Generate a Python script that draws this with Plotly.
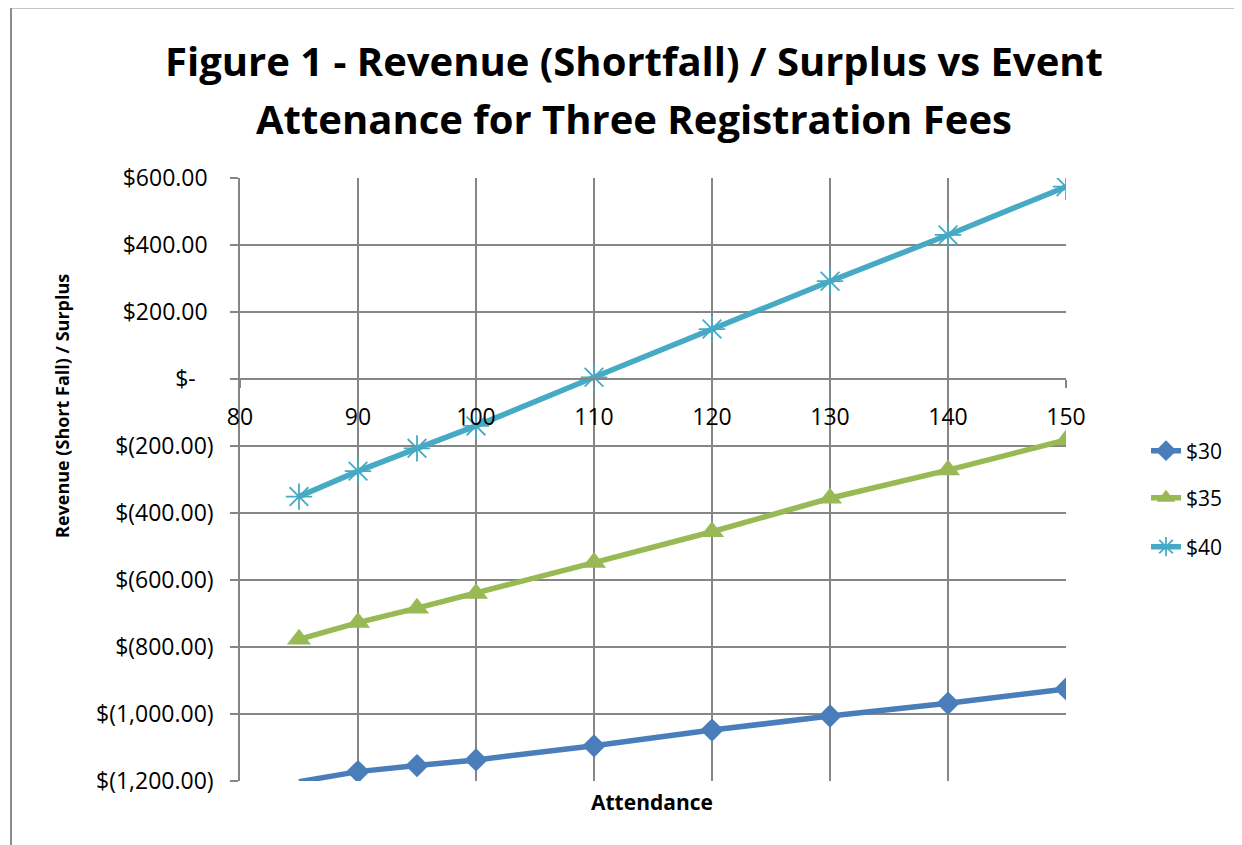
import plotly.graph_objects as go

# ---- data ----
attendance = [85, 90, 95, 100, 110, 120, 130, 140, 150]
fee_30 = [-1202, -1172, -1154, -1137, -1095, -1048, -1006, -968, -925]
fee_35 = [-777, -727, -684, -640, -548, -456, -356, -272, -182]
fee_40 = [-351, -275, -207, -140, 5, 149, 292, 430, 574]
series_names = ["$30", "$35", "$40"]

x_ticks = [80, 90, 100, 110, 120, 130, 140, 150]
x_ticktext = ["80", "90", "100", "110", "120", "130", "140", "150"]
y_ticks = [600, 400, 200, 0, -200, -400, -600, -800, -1000, -1200]
y_ticktext = ["$600.00\u00a0", "$400.00\u00a0", "$200.00\u00a0", "$-\u00a0\u00a0\u00a0",
              "$(200.00)", "$(400.00)", "$(600.00)", "$(800.00)", "$(1,000.00)", "$(1,200.00)"]

title_lines = ["Figure 1 - Revenue (Shortfall) / Surplus vs Event",
               "Attenance for Three Registration Fees"]
x_title = "Attendance"
y_title = "Revenue (Short Fall) / Surplus"

Y_MIN, Y_MAX = -1200, 600
X_MIN, X_MAX = 80, 150

# ---- layout geometry (page pixels; page body has an 8px margin) ----
OFF = 8
W, H = 1242 - OFF, 845 - OFF
L, R, T, B = 240 - OFF, 1066 - OFF, 178 - OFF, 781 - OFF
pw, ph = R - L, B - T

def px_x(p):
    return (p - OFF - L) / pw

def px_y(p):
    return (B - (p - OFF)) / ph

FONT = "Open Sans"
GRID = "#868686"
colors = ["#4A7EBB", "#98B954", "#46AAC5"]

fig = go.Figure()

sizes_30 = [0 if v < Y_MIN else 18 for v in fee_30]
fig.add_trace(go.Scatter(
    x=attendance, y=fee_30, name=series_names[0], mode="lines+markers",
    line=dict(color=colors[0], width=5.5),
    marker=dict(symbol="diamond", size=sizes_30, color=colors[0], opacity=1,
                line=dict(width=0)),
    legend="legend"))
fig.add_trace(go.Scatter(
    x=attendance, y=fee_35, name=series_names[1], mode="lines+markers",
    line=dict(color=colors[1], width=5.5),
    marker=dict(symbol="triangle-up", size=21, color=colors[1], opacity=1),
    legend="legend2"))
fig.add_trace(go.Scatter(
    x=attendance, y=fee_40, name=series_names[2], mode="lines+markers",
    line=dict(color=colors[2], width=5.5),
    marker=dict(symbol="asterisk-open", size=22, color=colors[2], opacity=1,
                line=dict(color=colors[2], width=1.8)),
    legend="legend3"))

leg_common = dict(x=px_x(1146), xanchor="left", yanchor="middle",
                  font=dict(family=FONT, size=21, color="black"),
                  bgcolor="rgba(0,0,0,0)", itemsizing="trace")

fig.update_layout(
    width=W, height=H,
    margin=dict(l=L, r=W - R, t=T, b=H - B, autoexpand=False),
    paper_bgcolor="white", plot_bgcolor="white",
    font=dict(family=FONT, size=20, color="black"),
    showlegend=True,
    legend=dict(y=px_y(451), **leg_common),
    legend2=dict(y=px_y(498), **leg_common),
    legend3=dict(y=px_y(547), **leg_common),
    xaxis=dict(
        range=[X_MIN, X_MAX], anchor="free", position=(0 - Y_MIN) / (Y_MAX - Y_MIN),
        tickvals=x_ticks, ticktext=x_ticktext, ticks="outside", ticklen=8,
        tickcolor=GRID, tickwidth=1.5, showline=True, linecolor=GRID, linewidth=1.5,
        showgrid=True, gridcolor=GRID, gridwidth=1.5, zeroline=False,
        ticklabelstandoff=10, tickfont=dict(family=FONT, size=23, color="black"),
    ),
    yaxis=dict(
        range=[Y_MIN, Y_MAX], tickvals=y_ticks, ticktext=y_ticktext,
        ticks="outside", ticklen=8, tickcolor=GRID, tickwidth=1.5,
        showline=True, linecolor=GRID, linewidth=1.5,
        showgrid=True, gridcolor=GRID, gridwidth=1.5, zeroline=False,
        ticklabelstandoff=12, tickfont=dict(family=FONT, size=23, color="black"),
    ),
)

annotations = [
    dict(text="<b>" + title_lines[0] + "</b>", x=px_x(634), y=px_y(60),
         xref="paper", yref="paper", showarrow=False, xanchor="center", yanchor="middle",
         font=dict(family=FONT, size=40, color="black")),
    dict(text="<b>" + title_lines[1] + "</b>", x=px_x(634), y=px_y(118),
         xref="paper", yref="paper", showarrow=False, xanchor="center", yanchor="middle",
         font=dict(family=FONT, size=40, color="black")),
    dict(text="<b>" + x_title + "</b>", x=px_x(652), y=px_y(802),
         xref="paper", yref="paper", showarrow=False, xanchor="center", yanchor="middle",
         font=dict(family=FONT, size=21, color="black")),
    dict(text="<b>" + y_title + "</b>", x=px_x(62), y=px_y(406), textangle=-90,
         xref="paper", yref="paper", showarrow=False, xanchor="center", yanchor="middle",
         font=dict(family=FONT, size=18, color="black")),
]
fig.update_layout(annotations=annotations)

fig.add_shape(type="rect", xref="paper", yref="paper",
              x0=px_x(11), x1=px_x(1260), y0=px_y(7.5), y1=px_y(870),
              line=dict(color="#8C8C8C", width=2), fillcolor="rgba(0,0,0,0)", layer="below")

fig.write_html("out.html")
